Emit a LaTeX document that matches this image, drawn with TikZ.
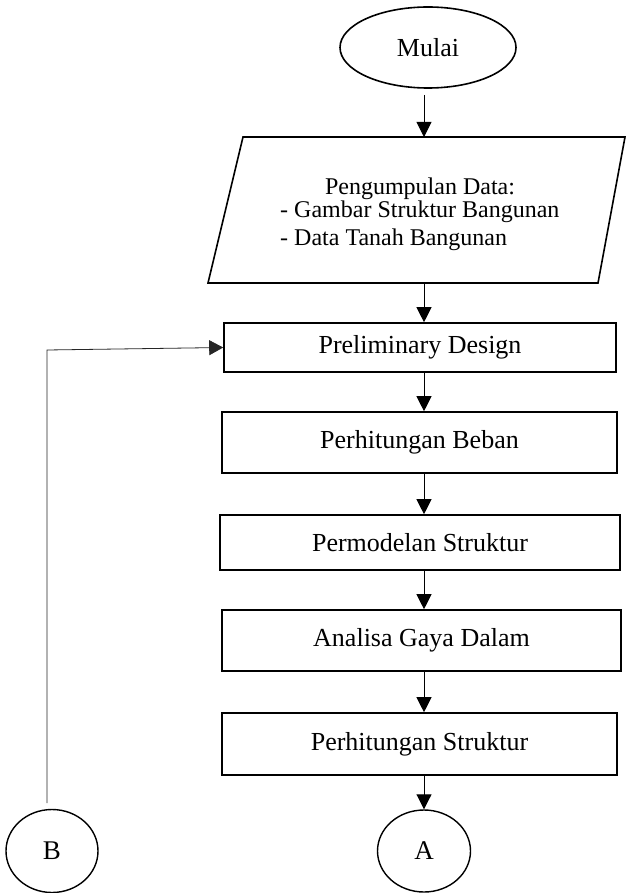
\documentclass[tikz,border=0pt]{standalone}
\usepackage{fontspec}
\setmainfont{Liberation Serif}
\usetikzlibrary{shapes.geometric,arrows.meta}
\begin{document}
\begin{tikzpicture}[x=1pt,y=-1pt,
  txt/.style={font=\fontsize{26}{30}\selectfont},
  ptxt/.style={font=\fontsize{24}{28}\selectfont,inner sep=0pt},
  process/.style={draw,line width=1.6pt,inner sep=0pt,txt},
  term/.style={draw,ellipse,line width=1.6pt,inner sep=0pt,txt},
  conn/.style={draw,ellipse,line width=1.4pt,inner sep=0pt,font=\fontsize{27}{30}\selectfont},
  flow/.style={line width=0.9pt,-{Triangle[width=15pt,length=15pt]}},
  back/.style={line width=0.8pt,draw=black!85,-{Triangle[width=15pt,length=14pt]}}]
\useasboundingbox (0,0) rectangle (626,893);

% start
\node[term,minimum width=176pt,minimum height=81pt] (mulai) at (428,47.5) {Mulai};

% data input (parallelogram)
\coordinate (dTL) at (243,137);
\coordinate (dTR) at (625,137);
\coordinate (dBR) at (598,283);
\coordinate (dBL) at (208,283);
\draw[line width=1.6pt,line join=miter] (dTL) -- (dTR) -- (dBR) -- (dBL) -- cycle;
\coordinate (dtop) at (424,137);
\coordinate (dbot) at (424,283);
\node[ptxt] (d1) at (420,189) {Pengumpulan Data:};
\node[ptxt,anchor=west] (d2) at (280,212) {- Gambar Struktur Bangunan};
\node[ptxt,anchor=west] (d3) at (280,240) {- Data Tanah Bangunan};

% process steps
\node[process,minimum width=392pt,minimum height=49pt] (pre) at (420,347.5) {Preliminary Design};
\node[process,minimum width=395pt,minimum height=61pt] (beban) at (419.5,442.5) {Perhitungan Beban};
\node[process,minimum width=400pt,minimum height=55pt] (model) at (420,542.5) {Permodelan Struktur};
\node[process,minimum width=399pt,minimum height=61pt] (gaya) at (421.5,640.5) {Analisa Gaya Dalam};
\node[process,minimum width=395pt,minimum height=62pt] (hitung) at (419.5,744) {Perhitungan Struktur};

% connectors
\node[conn,minimum width=93pt,minimum height=82pt] (A) at (424,851) {A};
\node[conn,minimum width=92pt,minimum height=83pt] (B) at (52,851) {B};

% main flow
\coordinate (m0) at (424,95);
\draw[flow] (m0) -- (dtop);
\draw[flow] (dbot) -- (pre.north -| dbot);
\draw[flow] (pre.south -| dbot) -- (beban.north -| dbot);
\draw[flow] (beban.south -| dbot) -- (model.north -| dbot);
\draw[flow] (model.south -| dbot) -- (gaya.north -| dbot);
\draw[flow] (gaya.south -| dbot) -- (hitung.north -| dbot);
\draw[flow] (hitung.south -| dbot) -- (A.north);

% return path from B
\coordinate (b0) at (47,803);
\coordinate (b1) at (47,350);
\draw[back] (b0) -- (b1) -- (pre.west);
\end{tikzpicture}
\end{document}
